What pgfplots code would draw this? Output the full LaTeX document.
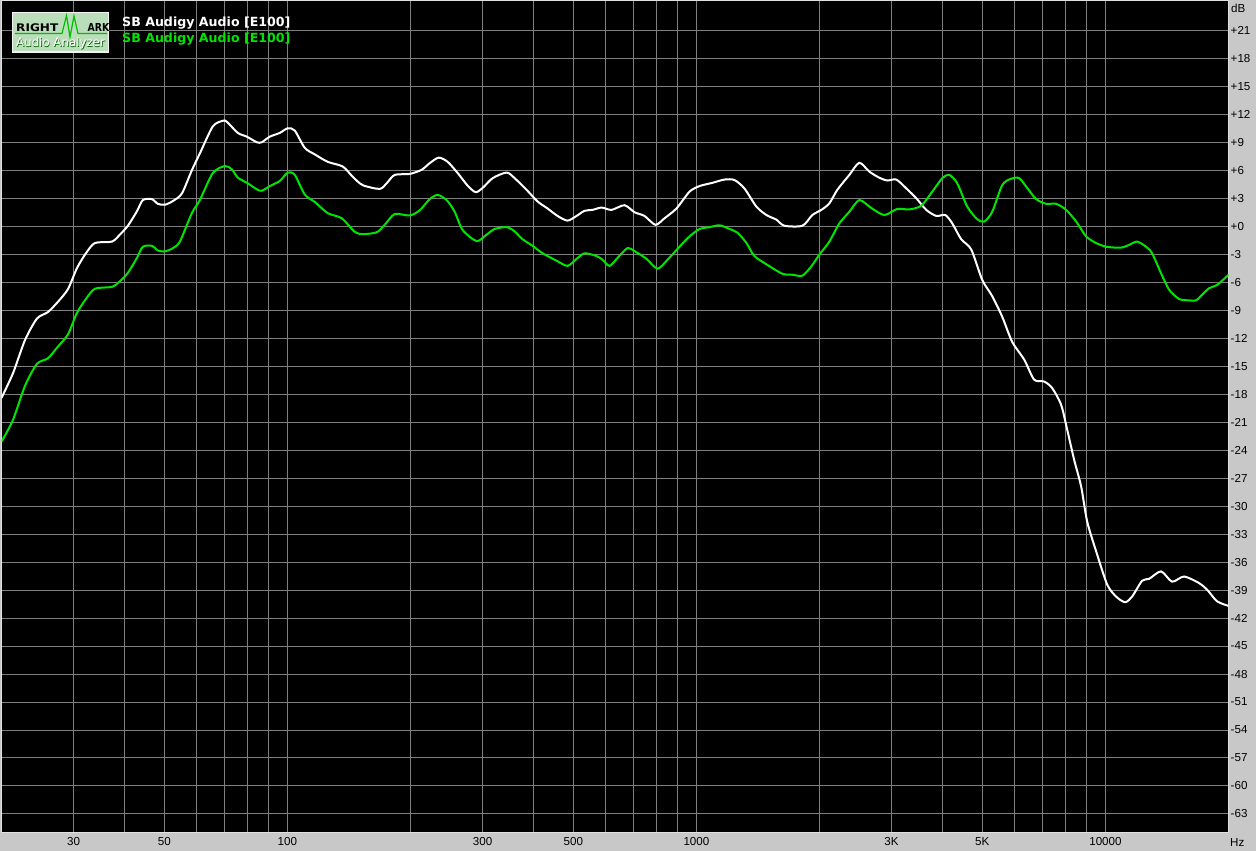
\documentclass[border=0pt]{standalone}
\usepackage{fontspec}
\setmainfont{Liberation Sans}
\newfontfamily\dejavu{DejaVu Sans}
\usepackage{pgfplots}
\pgfplotsset{compat=1.18}
\definecolor{bggray}{RGB}{200,200,200}
\definecolor{gridgray}{RGB}{128,128,128}
\definecolor{axisgray}{RGB}{225,225,225}
\definecolor{curvegreen}{RGB}{0,230,0}
\definecolor{logogreen}{RGB}{186,222,186}
\definecolor{wavegreen}{RGB}{0,190,0}
\newcommand{\tickfont}{\fontsize{11.6}{13}\selectfont}
\begin{document}
\begin{tikzpicture}
\path[use as bounding box, fill=bggray] (0pt,0pt) rectangle (1256pt,851pt);
\begin{axis}[
  at={(1.5pt,18pt)}, anchor=south west,
  scale only axis, width=1227pt, height=832pt,
  xmode=log, xmin=20, xmax=20000, ymin=-65.04, ymax=24.14,
  axis background/.style={fill=black},
  axis line style={draw=axisgray, line width=1pt},
  xtick={30,40,50,60,70,80,90,100,200,300,400,500,600,700,800,900,1000,2000,3000,4000,5000,6000,7000,8000,9000,10000},
  xticklabels={30,,50,,,,,100,,300,,500,,,,,1000,,3K,,5K,,,,,10000},
  minor xtick={},
  ytick={-63,-60,...,21},
  yticklabels={-63,-60,-57,-54,-51,-48,-45,-42,-39,-36,-33,-30,-27,-24,-21,-18,-15,-12,-9,-6,-3,+0,+3,+6,+9,+12,+15,+18,+21},
  yticklabel pos=right,
  major tick length=0pt, minor tick length=0pt,
  grid=major, major grid style={draw=gridgray, line width=1pt},
  tick label style={font=\tickfont, inner sep=0pt, text=black},
  x tick label style={anchor=base, yshift=-12.5pt},
  y tick label style={anchor=west, xshift=2pt},
  clip=true,
]
\addplot[white, line width=2pt, smooth, tension=0.45] table {
20 -18.4
21.34 -15.75
22.83 -12.2
24.42 -9.9
25.98 -9.2
27.48 -8.1
29.07 -6.75
30.58 -4.5
32.17 -2.9
33.84 -1.8
37.24 -1.65
38.95 -0.9
40.74 0.05
42.86 1.6
44.32 2.8
46.63 2.9
48.23 2.4
50.17 2.3
52.48 2.7
55.20 3.5
58.40 6.0
61.09 7.8
65.72 10.7
69.52 11.3
71.11 11.2
75.65 10.0
79.58 9.6
84.18 9.0
86.58 9.0
90.57 9.6
95.81 10.0
100.22 10.5
104.24 10.25
110.26 8.4
116.66 7.7
125.48 6.9
136.54 6.4
144.46 5.3
152.81 4.4
168.15 4.0
174.88 4.6
182.96 5.5
199.03 5.6
212.96 6.05
222.73 6.75
234.33 7.35
246.47 6.9
260.78 5.7
275.83 4.35
288.56 3.65
300.14 4.1
317.52 5.15
343.52 5.75
359.35 5.15
384.41 3.9
408.98 2.65
432.59 1.9
457.67 1.1
484.12 0.6
509.31 1.1
532.73 1.65
557.17 1.75
586.20 2.0
620.04 1.75
667.16 2.25
705.67 1.5
746.63 1.1
794.13 0.15
835.53 0.85
893.90 1.9
961.66 3.7
1017.35 4.3
1094.41 4.65
1170.94 5.0
1238.53 4.95
1310.38 4.05
1401.66 2.1
1483.0 1.2
1568.57 0.7
1641.08 0.05
1816.0 0.05
1920.90 1.2
2020.8 1.75
2113.8 2.45
2210.8 3.9
2365.4 5.5
2502.0 6.8
2647.1 5.85
2799.8 5.2
2929.3 4.9
3081.1 5.0
3259.7 4.05
3448.0 3.0
3647.8 1.75
3858.6 1.1
4059.3 1.2
4222.2 0.3
4440.9 -1.4
4698.5 -2.5
4997.4 -5.75
5287.7 -7.5
5592.6 -9.7
5917.2 -12.4
6330.7 -14.3
6696.8 -16.45
7084.4 -16.65
7410.5 -17.35
7794.4 -19.15
8062.9 -21.8
8386.7 -25.05
8722.6 -27.9
9022.9 -31.65
9490.9 -34.85
10097.4 -38.4
10621.5 -39.7
11171.2 -40.3
11622.0 -39.7
12293.1 -38.0
12788.3 -37.8
13680.2 -37.0
14554.4 -38.1
15568.9 -37.55
16941.5 -38.25
17717.6 -38.95
18747.0 -40.2
20000 -40.7
};
\addplot[curvegreen, line width=2pt, smooth, tension=0.45] table {
20 -23.1
21.34 -20.75
22.83 -17.1
24.42 -14.75
25.98 -14.15
27.48 -12.9
29.07 -11.6
30.58 -9.3
32.17 -7.8
33.84 -6.7
37.24 -6.5
38.95 -5.9
40.74 -5.0
42.86 -3.4
44.32 -2.2
46.63 -2.1
48.23 -2.6
50.17 -2.7
52.48 -2.35
54.59 -1.65
58.40 1.4
61.09 2.8
65.72 5.7
70.30 6.45
73.14 6.1
75.65 5.2
80.03 4.6
84.18 3.95
86.58 3.8
90.57 4.3
95.81 4.85
100.22 5.75
104.24 5.5
110.26 3.4
116.66 2.6
125.48 1.4
135.78 0.85
146.09 -0.6
152.81 -0.85
165.34 -0.65
172.94 0.15
182.96 1.3
199.03 1.15
210.58 1.7
222.73 2.9
233.02 3.35
245.09 2.8
256.42 1.55
268.13 -0.4
290.19 -1.6
306.95 -0.9
321.12 -0.3
343.52 -0.1
359.35 -0.55
375.87 -1.4
397.56 -2.1
420.64 -2.9
455.11 -3.7
484.12 -4.25
509.31 -3.5
532.73 -2.9
569.95 -3.2
589.50 -3.6
613.14 -4.25
641.42 -3.4
678.50 -2.35
713.76 -2.8
755.05 -3.5
803.28 -4.55
849.73 -3.6
909.12 -2.2
961.66 -1.1
1017.35 -0.3
1076.15 -0.1
1138.47 0.1
1190.86 -0.2
1259.80 -0.7
1325.21 -1.8
1386.02 -3.2
1491.35 -4.15
1622.75 -5.1
1716.51 -5.2
1816.0 -5.3
1910.16 -4.3
1998.2 -3.05
2113.8 -1.65
2235.7 0.3
2365.4 1.55
2502.0 2.8
2677.0 1.95
2880.3 1.2
3098.3 1.85
3315.2 1.8
3545.9 2.2
3772.9 3.7
3991.4 5.15
4151.6 5.5
4342.4 4.6
4594.1 2.1
4859.4 0.75
5055.1 0.5
5287.7 1.55
5592.6 4.4
5884.2 5.1
6154.3 5.15
6438.4 4.1
6772.3 2.9
7164.6 2.4
7578.8 2.4
8017.7 1.75
8481.3 0.5
8972.4 -1.1
9490.9 -1.8
10040.8 -2.2
10923.8 -2.3
11427.5 -2.0
11952.9 -1.65
12572.0 -2.2
13005.8 -2.9
13680.2 -5.05
14310.9 -6.8
15138.2 -7.8
16015.6 -7.95
16658.4 -7.95
17229.1 -7.35
17922.8 -6.65
18747.0 -6.3
20000 -5.2
};
\end{axis}
\begin{scope}[x=1pt, y=-1pt, shift={(0pt,851pt)}]
  % logo
  \draw[draw=white!90!gray, line width=1.5pt, fill=logogreen] (12.5,12.5) rectangle (108.5,52);
  \node[anchor=base west, inner sep=0pt, xscale=1.15, font=\dejavu\bfseries\fontsize{10.5}{12}\selectfont, text=black] at (16,31.5) {RIGHT};
  \node[anchor=base west, inner sep=0pt, xscale=0.85, font=\dejavu\bfseries\fontsize{11}{12}\selectfont, text=black] at (87.5,31.5) {ARK};
  \draw[wavegreen, line width=1.2pt] (15,33.5) -- (62,33.5) -- (66.5,15.5) -- (70,37) -- (74,16) -- (78,33.5) -- (107,33.5);
  \node[anchor=base west, inner sep=0pt, font=\dejavu\fontsize{11.8}{13}\selectfont, text=black!40!green!60!black] at (16.7,47.7) {Audio Analyzer};
  \node[anchor=base west, inner sep=0pt, font=\dejavu\fontsize{11.8}{13}\selectfont, text=white] at (16,47) {Audio Analyzer};
  % legend
  \node[anchor=base west, inner sep=0pt, font=\dejavu\bfseries\fontsize{12.6}{14}\selectfont, text=white] at (122,26.7) {SB Audigy Audio [E100]};
  \node[anchor=base west, inner sep=0pt, font=\dejavu\bfseries\fontsize{12.6}{14}\selectfont, text=curvegreen] at (122,42.7) {SB Audigy Audio [E100]};
  % units
  \node[anchor=base west, inner sep=0pt, font=\tickfont, text=black] at (1231,12.3) {dB};
  \node[anchor=base west, inner sep=0pt, font=\tickfont, text=black] at (1230,846.5) {Hz};
\end{scope}
\end{tikzpicture}
\end{document}
